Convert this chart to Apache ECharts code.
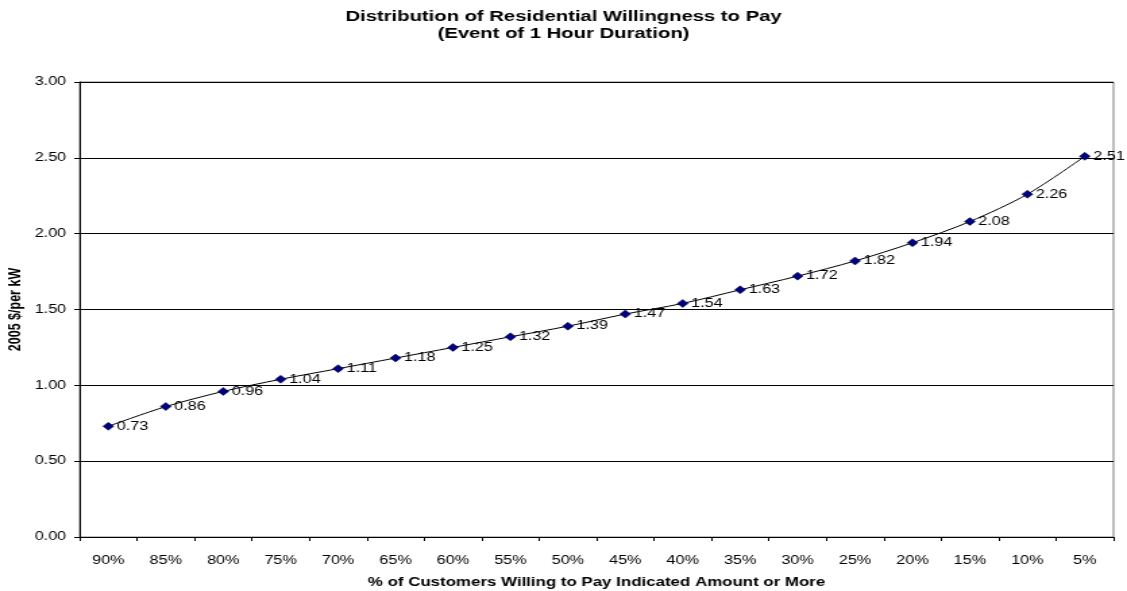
<!DOCTYPE html>
<html>
<head>
<meta charset="utf-8">
<script src="https://cdn.jsdelivr.net/npm/echarts@6/dist/echarts.min.js"></script>
<style>
  html, body { margin: 0; padding: 0; background: #fff; overflow: hidden; }
  /* The chart is laid out at a narrower width and widened to fill the page */
  #chart { width: 835px; height: 591px; transform-origin: 0 0; }
</style>
</head>
<body>
<div id="chart"></div>
<script>
// Share of customers willing to pay at least the indicated amount
const categories = ['90%', '85%', '80%', '75%', '70%', '65%', '60%', '55%', '50%',
                    '45%', '40%', '35%', '30%', '25%', '20%', '15%', '10%', '5%'];
// Willingness to pay, 2005 $ per kW
const wtpValues = [0.73, 0.86, 0.96, 1.04, 1.11, 1.18, 1.25, 1.32, 1.39,
                   1.47, 1.54, 1.63, 1.72, 1.82, 1.94, 2.08, 2.26, 2.51];
const yTicks = { min: 0, max: 3, interval: 0.5 };

const font = 'Liberation Sans, Arial, sans-serif';
const el = document.getElementById('chart');
el.style.transform = 'scaleX(' + (1127 / 835) + ')';
const chart = echarts.init(el, null, { renderer: 'canvas' });

chart.setOption({
  animation: false,
  backgroundColor: '#ffffff',
  title: {
    text: 'Distribution of Residential Willingness to Pay\n(Event of 1 Hour Duration)',
    left: 'center',
    top: 3,
    textStyle: { fontFamily: font, fontSize: 15, fontWeight: 'bold', color: '#000', lineHeight: 17 }
  },
  grid: {
    left: 59, right: 10, top: 82, bottom: 54,
    outerBoundsMode: 'none',
    containLabel: false,
    show: true, borderColor: '#808080', borderWidth: 1
  },
  xAxis: {
    type: 'category',
    data: categories,
    boundaryGap: true,
    name: '% of Customers Willing to Pay Indicated Amount or More',
    nameLocation: 'middle',
    nameGap: 39,
    nameMoveOverlap: false,
    nameTextStyle: { fontFamily: font, fontSize: 12.5, fontWeight: 'bold', color: '#000' },
    axisLine: { lineStyle: { color: '#000', width: 1 } },
    axisTick: { show: true, inside: false, length: 4, lineStyle: { color: '#000' } },
    axisLabel: { fontFamily: font, fontSize: 12, color: '#000', margin: 18 },
    splitLine: { show: false }
  },
  yAxis: {
    type: 'value',
    min: yTicks.min,
    max: yTicks.max,
    interval: yTicks.interval,
    name: '2005 $/per kW',
    nameLocation: 'middle',
    nameGap: 41,
    nameRotate: 90,
    nameMoveOverlap: false,
    nameTextStyle: { fontFamily: font, fontSize: 12.5, fontWeight: 'bold', color: '#000' },
    axisLine: { show: true, lineStyle: { color: '#000', width: 1 } },
    axisTick: { show: true, length: 4, lineStyle: { color: '#000' } },
    axisLabel: { fontFamily: font, fontSize: 12, color: '#000', margin: 10,
                 formatter: v => v.toFixed(2) },
    splitLine: { show: true, lineStyle: { color: '#000', width: 1 } }
  },
  series: [{
    type: 'line',
    data: wtpValues,
    smooth: 0.3,
    symbol: 'diamond',
    symbolSize: 8,
    itemStyle: { color: '#000080', borderColor: '#000033', borderWidth: 0.5 },
    lineStyle: { color: '#000', width: 1 },
    label: {
      show: true,
      position: 'right',
      distance: 2,
      fontFamily: font,
      fontSize: 12,
      color: '#000',
      formatter: p => p.value.toFixed(2)
    }
  }]
});
</script>
</body>
</html>
